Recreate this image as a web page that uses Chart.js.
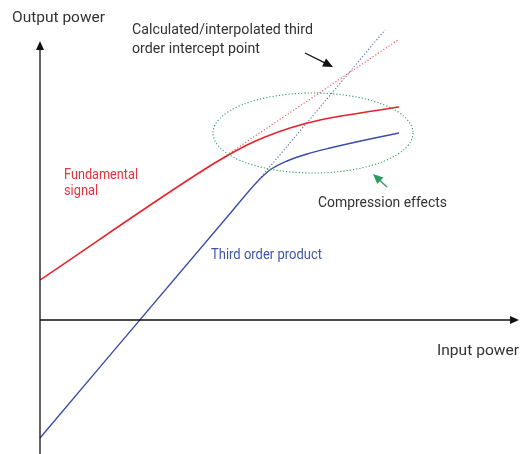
<!DOCTYPE html>
<html>
<head>
<meta charset="utf-8">
<title>Third order intercept</title>
<script src="https://cdn.jsdelivr.net/npm/chart.js"></script>
<style>body{margin:0;background:#fff}</style>
</head>
<body>
<canvas id="myChart" width="522" height="454"></canvas>
<script>
// input / output power in arbitrary dB units, origin where the two axes cross
const fundamentalIn  = [0, 16.5, 18.5, 20.5, 22.5, 25, 28, 32, 35.9];
const fundamentalOut = [4, 15.1, 16.3, 17.4, 18.3, 19.2, 20, 20.7, 21.3];
const fundamentalExtIn  = [16, 35.8];
const fundamentalExtOut = [14.7, 28];

const thirdIn  = [0, 19.3, 21.7, 23, 24.7, 26.7, 29, 33, 35.9];
const thirdOut = [-11.8, 11.0, 13.8, 15, 15.9, 16.6, 17.2, 18.1, 18.7];
const thirdExtIn  = [21.7, 34.5];
const thirdExtOut = [13.8, 29.0];

// compression region (ellipse): centre and radii
const compression = {x: 27.3, y: 18.7, rx: 10, ry: 4};

// annotation texts: text, x, y (baseline), colour, width px
const labels = [
  ['Output power', -2.8, 29.8, '#333333', 93],
  ['Calculated/interpolated third', 9.2, 28.6, '#333333', 181],
  ['order intercept point', 9.2, 26.7, '#333333', 128],
  ['Fundamental', 2.4, 14.1, '#e8323c', 74],
  ['signal', 2.4, 12.5, '#e8323c', 34],
  ['Third order product', 17.1, 6.1, '#4055a8', 111],
  ['Compression effects', 27.8, 11.3, '#333333', 129],
  ['Input power', 39.7, -3.5, '#333333', 82]
];
// pointer arrows: from, to, colour
const pointers = [
  [26.5, 26.7, 29.3, 25.3, '#111111'],
  [34.7, 13.3, 33.3, 14.6, '#2e9a63']
];

const xy = (xs, ys) => xs.map((x, i) => ({x: x, y: ys[i]}));

function arrowHead(ctx, x1, y1, x2, y2, len, half) {
  const a = Math.atan2(y2 - y1, x2 - x1);
  ctx.beginPath();
  ctx.moveTo(x2, y2);
  ctx.lineTo(x2 - len * Math.cos(a) + half * Math.sin(a), y2 - len * Math.sin(a) - half * Math.cos(a));
  ctx.lineTo(x2 - len * Math.cos(a) - half * Math.sin(a), y2 - len * Math.sin(a) + half * Math.cos(a));
  ctx.closePath();
  ctx.fill();
}

const extras = {
  id: 'extras',
  afterDatasetsDraw(chart) {
    const ctx = chart.ctx;
    const sx = chart.scales.x, sy = chart.scales.y;
    const px = v => sx.getPixelForValue(v), py = v => sy.getPixelForValue(v);
    ctx.save();

    // axes
    ctx.strokeStyle = '#111';
    ctx.fillStyle = '#111';
    ctx.lineWidth = 1.3;
    ctx.beginPath();
    ctx.moveTo(px(0), py(sy.min));
    ctx.lineTo(px(0), py(27.1));
    ctx.moveTo(px(0), py(0));
    ctx.lineTo(px(47), py(0));
    ctx.stroke();
    arrowHead(ctx, px(0), py(0), px(0), py(27.9), 9, 4);
    arrowHead(ctx, px(0), py(0), px(47.9), py(0), 9, 4);

    // compression ellipse
    ctx.strokeStyle = '#2e9a63';
    ctx.lineWidth = 1.1;
    ctx.setLineDash([1.2, 2]);
    ctx.beginPath();
    ctx.ellipse(px(compression.x), py(compression.y),
      px(compression.x + compression.rx) - px(compression.x),
      py(compression.y) - py(compression.y + compression.ry), 0, 0, Math.PI * 2);
    ctx.stroke();
    ctx.setLineDash([]);

    // pointers
    pointers.forEach(p => {
      ctx.strokeStyle = p[4];
      ctx.fillStyle = p[4];
      ctx.lineWidth = 1.3;
      const x1 = px(p[0]), y1 = py(p[1]), x2 = px(p[2]), y2 = py(p[3]);
      const a = Math.atan2(y2 - y1, x2 - x1);
      ctx.beginPath();
      ctx.moveTo(x1, y1);
      ctx.lineTo(x2 - 8 * Math.cos(a), y2 - 8 * Math.sin(a));
      ctx.stroke();
      arrowHead(ctx, x1, y1, x2, y2, 10, 4.5);
    });

    // texts
    ctx.font = '15px Roboto, "Liberation Sans", sans-serif';
    ctx.textBaseline = 'alphabetic';
    labels.forEach(l => {
      const w = ctx.measureText(l[0]).width;
      ctx.save();
      ctx.translate(px(l[1]), py(l[2]));
      ctx.scale(l[4] / w, 1);
      ctx.fillStyle = l[3];
      ctx.fillText(l[0], 0, 0);
      ctx.restore();
    });
    ctx.restore();
  }
};

new Chart(document.getElementById('myChart'), {
  type: 'scatter',
  data: {
    datasets: [
      {
        label: 'Fundamental signal',
        data: xy(fundamentalIn, fundamentalOut),
        showLine: true, borderColor: '#e8212b', borderWidth: 1.5,
        cubicInterpolationMode: 'monotone', pointRadius: 0
      },
      {
        label: 'Fundamental (extrapolated)',
        data: xy(fundamentalExtIn, fundamentalExtOut),
        showLine: true, borderColor: '#ee4a52', borderWidth: 1.1,
        borderDash: [1.2, 2], pointRadius: 0
      },
      {
        label: 'Third order product',
        data: xy(thirdIn, thirdOut),
        showLine: true, borderColor: '#3b4ea6', borderWidth: 1.4,
        cubicInterpolationMode: 'monotone', pointRadius: 0
      },
      {
        label: 'Third order (extrapolated)',
        data: xy(thirdExtIn, thirdExtOut),
        showLine: true, borderColor: '#5565b5', borderWidth: 1.1,
        borderDash: [1.2, 2], pointRadius: 0
      }
    ]
  },
  options: {
    responsive: false,
    animation: false,
    layout: {padding: 0},
    plugins: {legend: {display: false}, tooltip: {enabled: false}},
    scales: {
      x: {type: 'linear', display: false, min: -4, max: 48.2},
      y: {type: 'linear', display: false, min: -13.4, max: 32}
    }
  },
  plugins: [extras]
});
</script>
</body>
</html>
